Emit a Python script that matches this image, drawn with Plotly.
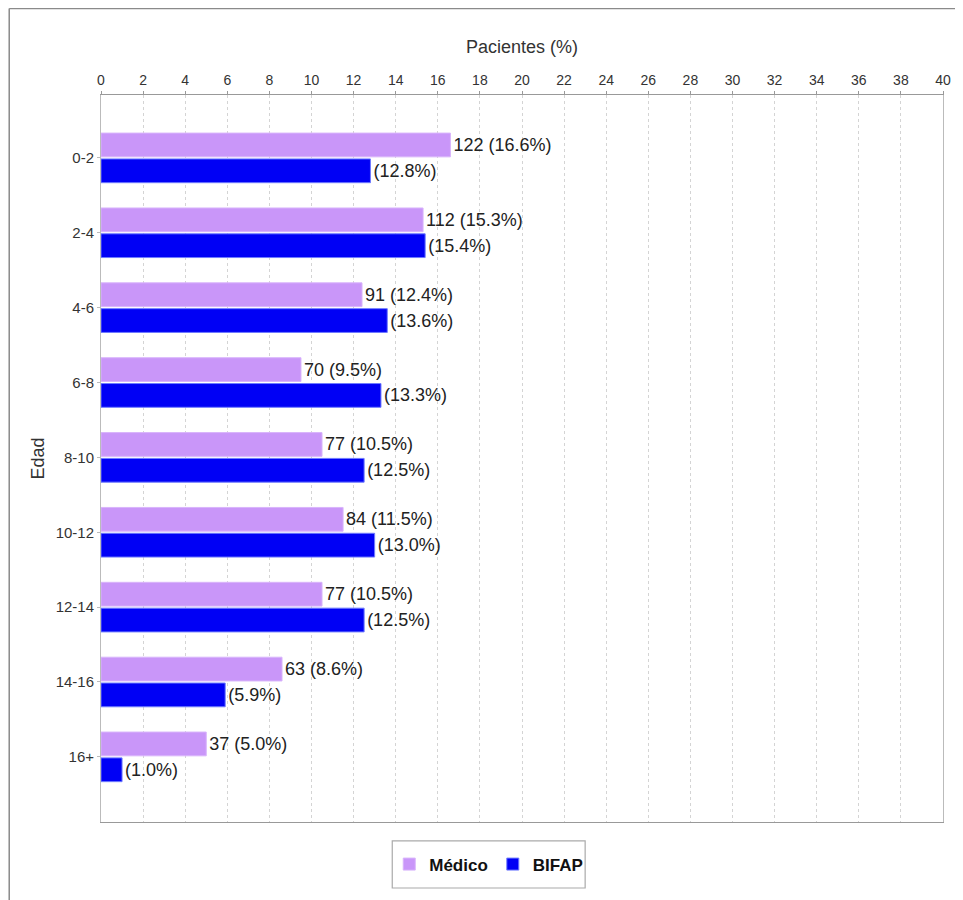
import plotly.graph_objects as go

categories = ["0-2", "2-4", "4-6", "6-8", "8-10", "10-12", "12-14", "14-16", "16+"]
medico_pct = [16.6, 15.3, 12.4, 9.5, 10.5, 11.5, 10.5, 8.6, 5.0]
medico_n = [122, 112, 91, 70, 77, 84, 77, 63, 37]
bifap_pct = [12.8, 15.4, 13.6, 13.3, 12.5, 13.0, 12.5, 5.9, 1.0]
x_ticks = list(range(0, 41, 2))

FONT = "Liberation Sans, Arial, sans-serif"

medico_text = [f"{n} ({p:.1f}%)" for n, p in zip(medico_n, medico_pct)]
bifap_text = [f"({p:.1f}%)" for p in bifap_pct]

fig = go.Figure()
fig.add_trace(go.Bar(
    y=categories, x=medico_pct, orientation="h", name="Médico",
    marker=dict(color="#C996F9", line=dict(color="#D8B4FB", width=1)),
    text=medico_text, textposition="outside", cliponaxis=False,
    textfont=dict(family=FONT, size=18, color="#222222"),
))
fig.add_trace(go.Bar(
    y=categories, x=bifap_pct, orientation="h", name="BIFAP",
    marker=dict(color="#0000F5", line=dict(color="#6F7BFF", width=1)),
    text=bifap_text, textposition="outside", cliponaxis=False,
    textfont=dict(family=FONT, size=18, color="#222222"),
))

fig.update_layout(
    width=955, height=892,
    margin=dict(l=93, r=15, t=87, b=78),
    paper_bgcolor="white", plot_bgcolor="white",
    barmode="group", bargap=0.31, bargroupgap=0.08,
    font=dict(family=FONT, color="#333333"),
    showlegend=True,
    legend=dict(
        orientation="h", x=0.4605, xanchor="center", y=-0.0585, yanchor="middle",
        borderwidth=0, bgcolor="rgba(0,0,0,0)",
        font=dict(family=FONT, size=17, color="#111111", weight="bold"),
        itemwidth=30, traceorder="normal",
    ),
    xaxis=dict(
        side="top", range=[0, 40], tickvals=x_ticks,
        ticktext=[str(v) for v in x_ticks],
        tickfont=dict(family=FONT, size=14, color="#333333"),
        title=dict(text="Pacientes (%)", font=dict(family=FONT, size=18, color="#333333"), standoff=14),
        showgrid=True, gridcolor="#D4D4D4", griddash="3px,3px", gridwidth=1,
        showline=True, linecolor="#999999", linewidth=1, mirror=True,
        ticks="outside", ticklen=3, tickcolor="#999999",
        zeroline=False,
    ),
    yaxis=dict(
        type="category", range=[8.87, -0.84],
        tickfont=dict(family=FONT, size=15, color="#333333"),
        title=dict(text="Edad", font=dict(family=FONT, size=18, color="#333333"), standoff=6),
        showgrid=False, showline=True, linecolor="#BBBBBB", linewidth=1, mirror=True,
        ticks="outside", ticklen=3, tickcolor="#BBBBBB",
    ),
    shapes=[
        dict(type="line", xref="paper", yref="paper", x0=-0.109, x1=1.02, y0=1.119, y1=1.119,
             line=dict(color="#8A8A8A", width=1.5)),
        dict(type="line", xref="paper", yref="paper", x0=-0.109, x1=-0.109, y0=1.119, y1=-0.11,
             line=dict(color="#8A8A8A", width=1.5)),
        dict(type="rect", xref="paper", yref="paper", x0=0.3459, x1=0.575, y0=-0.0261, y1=-0.0908,
             line=dict(color="#AAAAAA", width=1.2), fillcolor="rgba(0,0,0,0)", layer="below"),
    ],
)

fig.write_html("out.html")
